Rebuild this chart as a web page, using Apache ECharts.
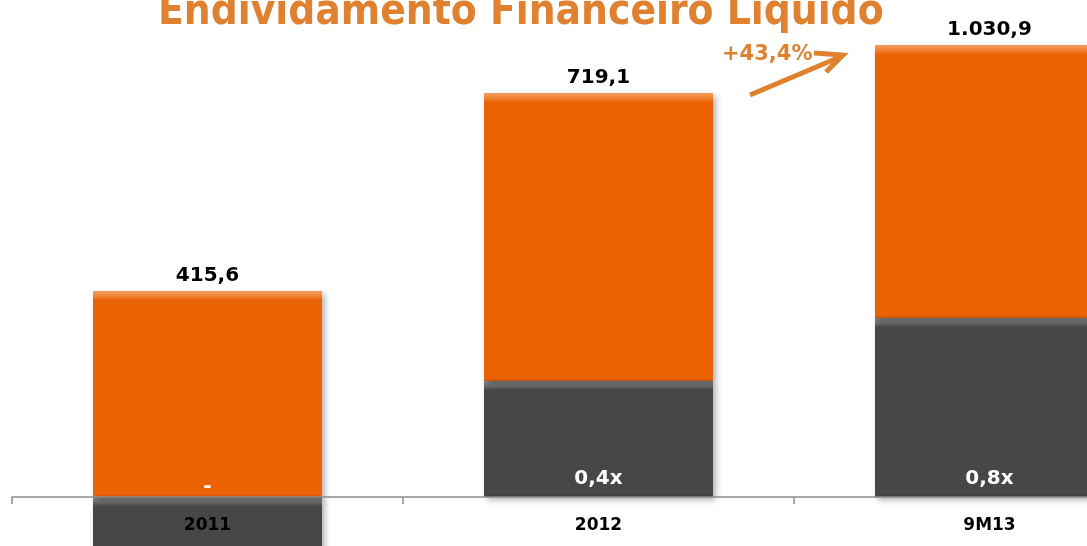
<!DOCTYPE html>
<html lang="pt">
<head>
    <meta charset="UTF-8">
    <title>Endividamento Financeiro Líquido</title>
    <script src="https://cdn.jsdelivr.net/npm/echarts@6/dist/echarts.min.js"></script>
</head>
<body style="margin:0;background:#fff;">
<div id="main" style="width:1087px;height:546px;"></div>
<script type="text/javascript">
    // categorias e rótulos
    var periodos = ['2011', '2012', '9M13'];
    var dividaLabels = ['415,6', '719,1', '1.030,9'];
    var alavancagemLabels = ['-', '0,4x', '0,8x'];
    // alturas (escala do gráfico)
    var alavancagemAltura = [-55, 116, 179];
    var dividaAltura = [206, 288, 273];
    var crescimento = '+43,4%';

    var laranja = '#EC6305';
    var cinza = '#474747';
    var titulo = '#E0812F';

    var myChart = echarts.init(document.getElementById('main'));

    // efeito de chanfro: faixa clara no topo, borda escura embaixo
    function chanfro(h, claro, medio, base, escuro) {
        h = Math.abs(h);
        return {
            type: 'linear', x: 0, y: 0, x2: 0, y2: 1,
            colorStops: [
                {offset: 0, color: claro},
                {offset: 6 / h, color: medio},
                {offset: 9 / h, color: base},
                {offset: 1 - 3 / h, color: base},
                {offset: 1, color: escuro}
            ]
        };
    }

    var cinzaData = alavancagemAltura.map(function (v) {
        var item = {
            value: v,
            itemStyle: {color: chanfro(v, '#8c8c8c', '#666', cinza, '#3a3a3a')}
        };
        if (v < 0) {
            item.label = {position: ['50%', -10], align: 'center', verticalAlign: 'middle'};
        }
        return item;
    });

    var laranjaData = dividaAltura.map(function (v) {
        return {
            value: v,
            itemStyle: {color: chanfro(v, '#F6A060', '#F07E2C', laranja, '#C85308')}
        };
    });

    var option = {
        backgroundColor: '#fff',
        animation: false,
        title: {
            text: 'Endividamento Financeiro Líquido',
            left: 153,
            top: -13,
            textStyle: {
                color: titulo,
                fontFamily: 'DejaVu Sans Condensed',
                fontWeight: 'bold',
                fontSize: 42
            }
        },
        grid: {
            left: 12,
            top: 45,
            width: 1173,
            bottom: 49,
            outerBoundsMode: 'none',
            containLabel: false
        },
        xAxis: {
            type: 'category',
            data: periodos,
            z: 10,
            axisLine: {onZero: false, lineStyle: {color: '#8c8c8c', width: 1.5}},
            axisTick: {show: true, length: 7, lineStyle: {color: '#8c8c8c', width: 1.5}},
            axisLabel: {
                margin: 20,
                color: '#000',
                fontFamily: 'DejaVu Sans',
                fontWeight: 'bold',
                fontSize: 17
            }
        },
        yAxis: {
            type: 'value',
            min: 0,
            max: 452,
            show: false,
            splitLine: {show: false}
        },
        series: [
            {
                name: 'Alavancagem',
                type: 'bar',
                stack: 'total',
                barWidth: 229,
                clip: false,
                data: cinzaData,
                itemStyle: {
                    shadowColor: 'rgba(0,0,0,0.3)',
                    shadowBlur: 6,
                    shadowOffsetX: 3,
                    shadowOffsetY: 3
                },
                label: {
                    show: true,
                    position: 'insideBottom',
                    distance: 8,
                    color: '#fff',
                    fontFamily: 'DejaVu Sans',
                    fontWeight: 'bold',
                    fontSize: 20,
                    formatter: function (p) {
                        return alavancagemLabels[p.dataIndex];
                    }
                }
            },
            {
                name: 'Endividamento',
                type: 'bar',
                stack: 'total',
                barWidth: 229,
                data: laranjaData,
                itemStyle: {
                    shadowColor: 'rgba(0,0,0,0.3)',
                    shadowBlur: 6,
                    shadowOffsetX: 3,
                    shadowOffsetY: 3
                },
                label: {
                    show: true,
                    position: 'top',
                    distance: 5,
                    color: '#000',
                    fontFamily: 'DejaVu Sans',
                    fontWeight: 'bold',
                    fontSize: 20,
                    formatter: function (p) {
                        return dividaLabels[p.dataIndex];
                    }
                }
            }
        ],
        graphic: [
            {
                type: 'text',
                left: 722,
                top: 44,
                z: 100,
                style: {
                    text: crescimento,
                    fill: titulo,
                    font: 'bold 21px "DejaVu Sans"'
                }
            },
            {
                type: 'line',
                z: 100,
                shape: {x1: 750, y1: 95, x2: 840, y2: 57},
                style: {stroke: titulo, lineWidth: 5, lineCap: 'butt'}
            },
            {
                type: 'polyline',
                z: 100,
                shape: {points: [[814, 53], [843, 55], [826, 72]]},
                style: {stroke: titulo, lineWidth: 5, fill: null, lineJoin: 'miter'}
            }
        ]
    };

    myChart.setOption(option);
</script>
</body>
</html>
